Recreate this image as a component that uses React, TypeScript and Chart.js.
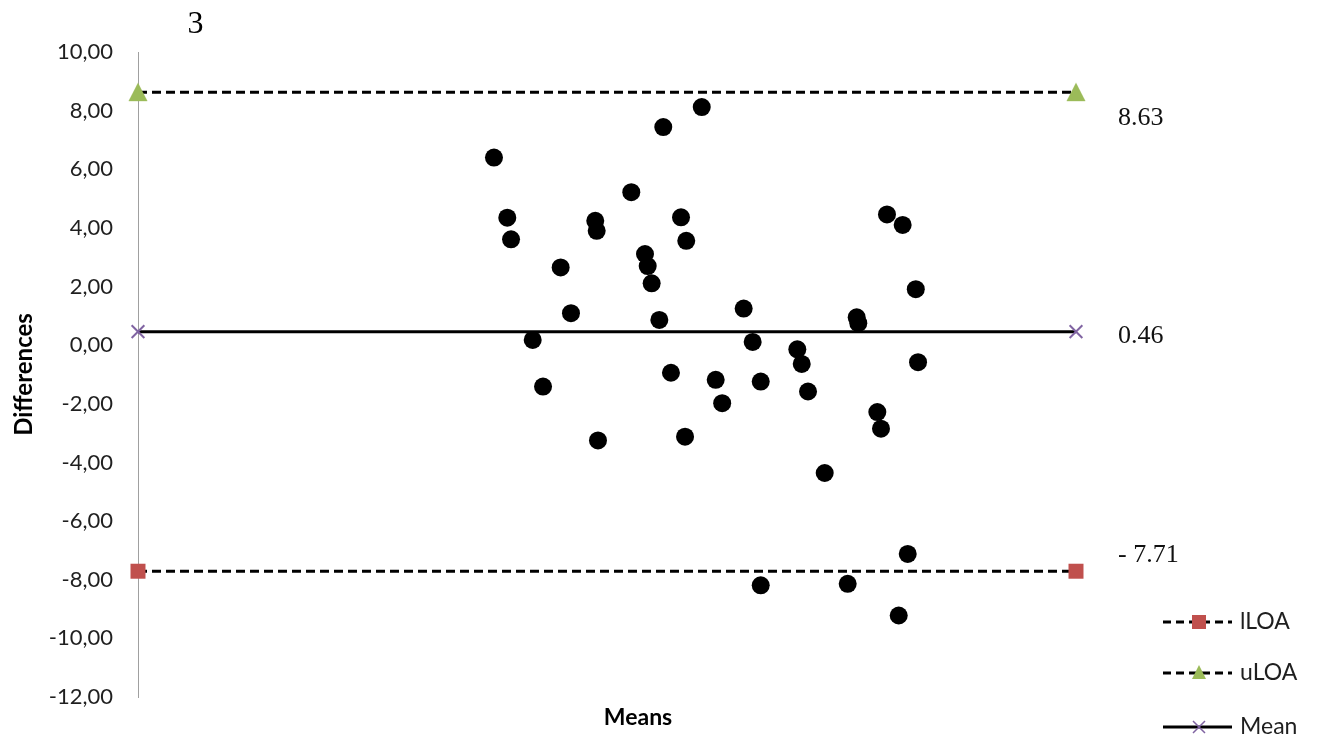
import React, { useEffect, useRef } from 'react';
import { Chart, registerables } from 'chart.js';

Chart.register(...registerables);

// ---- data ----
const means: number[] = [
  37.95, 39.37, 39.77, 45.06, 46.16, 42.08, 43.18, 48.75, 48.9, 49.04,
  52.59, 56.0, 60.1, 54.05, 54.34, 54.76, 55.58, 57.89, 58.45, 56.82,
  58.32, 61.59, 62.28, 64.57, 65.53, 66.39, 66.39, 70.29, 70.76, 71.43,
  73.21, 76.62, 76.79, 75.66, 78.82, 79.21, 79.85, 81.52, 82.92, 83.16,
  82.06, 81.1,
];
const differences: number[] = [
  6.4, 4.35, 3.61, 2.65, 1.09, 0.18, -1.41, 4.24, 3.9, -3.25,
  5.22, 7.44, 8.12, 3.11, 2.7, 2.11, 0.86, 4.36, 3.56, -0.94,
  -3.12, -1.18, -1.98, 1.25, 0.11, -1.24, -8.19, -0.14, -0.64, -1.58,
  -4.36, 0.95, 0.75, -8.14, -2.28, -2.85, 4.46, 4.1, 1.91, -0.58,
  -7.12, -9.22,
];
const xRange: number[] = [0, 100];
const meanDiff = 0.46;
const upperLOA = 8.63;
const lowerLOA = -7.71;
const yMin = -12;
const yMax = 10;
const yStep = 2;
const limitTexts: string[] = ['8.63', '0.46', '- 7.71'];
const legendNames: string[] = ['lLOA', 'uLOA', 'Mean'];
const panelLabel = '3';
const xTitle = 'Means';
const yTitle = 'Differences';

const RED = '#C0504D';
const GREEN = '#9BBB59';
const PURPLE = '#8064A2';
const TEXT = '#1f1f1f';

// triangle marker centred on its bounding box (as in the source chart)
function makeTriangle(): HTMLCanvasElement {
  const c = document.createElement('canvas');
  c.width = 20;
  c.height = 20;
  const g = c.getContext('2d')!;
  g.fillStyle = GREEN;
  g.beginPath();
  g.moveTo(10, 0.5);
  g.lineTo(19.5, 19);
  g.lineTo(0.5, 19);
  g.closePath();
  g.fill();
  return c;
}

const overlayPlugin = {
  id: 'overlay',
  afterDraw(chart: any) {
    const ctx = chart.ctx as CanvasRenderingContext2D;
    const y = chart.scales.y;
    ctx.save();
    // panel label
    ctx.fillStyle = '#000';
    ctx.font = '32px "Liberation Serif", "Times New Roman", serif';
    ctx.textAlign = 'center';
    ctx.textBaseline = 'middle';
    ctx.fillText(panelLabel, 195.5, 25);

    // limit value texts
    ctx.font = '26px "Liberation Serif", "Times New Roman", serif';
    ctx.textAlign = 'left';
    ctx.fillStyle = '#111';
    ctx.fillText(limitTexts[0], 1118, y.getPixelForValue(upperLOA) + 26);
    ctx.fillText(limitTexts[1], 1118, y.getPixelForValue(meanDiff) + 4);
    ctx.fillText(limitTexts[2], 1118, y.getPixelForValue(lowerLOA) - 16);

    // x title
    ctx.font = 'bold 23px Lato, sans-serif';
    ctx.textAlign = 'center';
    ctx.fillStyle = '#000';
    ctx.fillText(xTitle, 638, 718);

    // legend
    const rows = [622, 673, 727];
    const x0 = 1163, x1 = 1232, mx = 1199;
    rows.forEach((ry, i) => {
      ctx.strokeStyle = '#000';
      ctx.lineWidth = 3;
      ctx.setLineDash(i < 2 ? [8, 5] : []);
      ctx.beginPath();
      ctx.moveTo(x0, ry);
      ctx.lineTo(x1, ry);
      ctx.stroke();
      ctx.setLineDash([]);
      if (i === 0) {
        ctx.fillStyle = RED;
        ctx.fillRect(mx - 7, ry - 7, 14, 14);
      } else if (i === 1) {
        ctx.fillStyle = GREEN;
        ctx.beginPath();
        ctx.moveTo(mx, ry - 8);
        ctx.lineTo(mx + 7, ry + 6);
        ctx.lineTo(mx - 7, ry + 6);
        ctx.closePath();
        ctx.fill();
      } else {
        ctx.strokeStyle = PURPLE;
        ctx.lineWidth = 1.5;
        ctx.beginPath();
        ctx.moveTo(mx - 6, ry - 6);
        ctx.lineTo(mx + 6, ry + 6);
        ctx.moveTo(mx + 6, ry - 6);
        ctx.lineTo(mx - 6, ry + 6);
        ctx.stroke();
      }
      ctx.fillStyle = TEXT;
      ctx.font = '23px Lato, sans-serif';
      ctx.textAlign = 'left';
      ctx.textBaseline = 'middle';
      ctx.fillText(legendNames[i], 1240, ry);
    });
    ctx.restore();
  },
};

export default function App() {
  const canvasRef = useRef<HTMLCanvasElement | null>(null);

  useEffect(() => {
    if (!canvasRef.current) return;
    const hLine = (v: number) => [
      { x: xRange[0], y: v },
      { x: xRange[1], y: v },
    ];
    const tri = makeTriangle();
    const chart = new Chart(canvasRef.current, {
      type: 'scatter',
      data: {
        datasets: [
          {
            label: 'Differences',
            data: means.map((m, i) => ({ x: m, y: differences[i] })),
            pointRadius: 9,
            pointHoverRadius: 9,
            pointBackgroundColor: '#000',
            pointBorderColor: '#000',
            pointBorderWidth: 0,
            showLine: false,
          },
          {
            label: legendNames[0],
            data: hLine(lowerLOA),
            showLine: true,
            borderColor: '#000',
            borderWidth: 3,
            borderDash: [9, 5],
            pointStyle: 'rect',
            pointRadius: 10.6,
            pointBackgroundColor: RED,
            pointBorderColor: RED,
            pointBorderWidth: 0,
            clip: false,
          },
          {
            label: legendNames[1],
            data: hLine(upperLOA),
            showLine: true,
            borderColor: '#000',
            borderWidth: 3,
            borderDash: [9, 5],
            pointStyle: tri,
            pointRadius: 10,
            clip: false,
          },
          {
            label: legendNames[2],
            data: hLine(meanDiff),
            showLine: true,
            borderColor: '#000',
            borderWidth: 3,
            pointStyle: 'crossRot',
            pointRadius: 9,
            pointBackgroundColor: PURPLE,
            pointBorderColor: PURPLE,
            pointBorderWidth: 2,
            clip: false,
          },
        ],
      },
      options: {
        animation: false,
        responsive: true,
        maintainAspectRatio: false,
        events: [],
        layout: { padding: { left: 0, right: 248, top: 52, bottom: 45 } },
        plugins: {
          legend: { display: false },
          tooltip: { enabled: false },
        },
        scales: {
          x: {
            type: 'linear',
            min: xRange[0],
            max: xRange[1],
            display: false,
          },
          y: {
            type: 'linear',
            min: yMin,
            max: yMax,
            afterFit: (scale: any) => {
              scale.width = 138;
            },
            ticks: {
              stepSize: yStep,
              padding: 25,
              color: TEXT,
              font: { family: 'Lato', size: 22 },
              callback: (v: any) => Number(v).toFixed(2).replace('.', ','),
            },
            grid: { display: false, drawTicks: false },
            border: { display: true, color: '#a0a0a0', width: 1 },
            title: {
              display: true,
              text: yTitle,
              color: '#000',
              font: { family: 'Lato', size: 24, weight: 'bold' },
              padding: { top: 10, bottom: 0 },
            },
          },
        },
      },
      plugins: [overlayPlugin],
    } as any);
    return () => chart.destroy();
  }, []);

  return (
    <div style={{ position: 'absolute', left: 0, top: 0, width: 1324, height: 742, background: '#fff' }}>
      <canvas ref={canvasRef} />
    </div>
  );
}
